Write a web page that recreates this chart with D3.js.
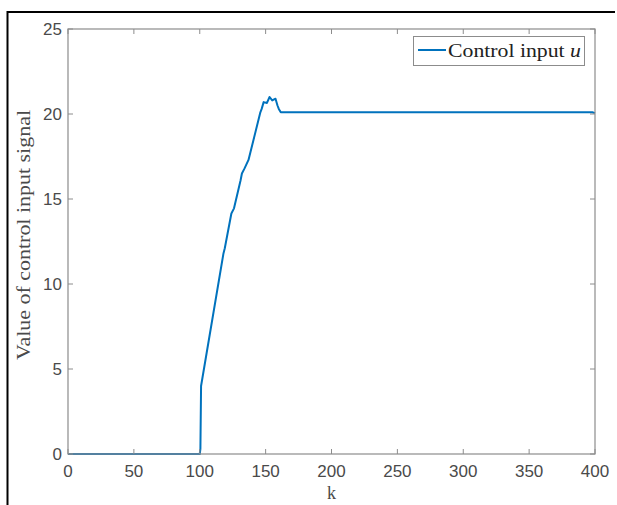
<!DOCTYPE html>
<html><head><meta charset="utf-8">
<script src="https://cdn.jsdelivr.net/npm/d3@7"></script>
<style>body{margin:0;background:#fff}</style>
</head><body>
<svg id="c" width="617" height="505"></svg>
<script>
const kValues = [0,100,100.5,101,118,119,124,126,131,132,134,137,146,147,148.5,151,153,155,157.5,159,160,161.5,398,400];
const uValues = [0,0,0.3,4.0,11.8,12.1,14.15,14.45,16.1,16.5,16.8,17.3,20.1,20.3,20.7,20.65,21.0,20.8,20.9,20.5,20.3,20.1,20.1,20.05];
const xTicks = [0,50,100,150,200,250,300,350,400];
const yTicks = [0,5,10,15,20,25];
const seriesName = "Control input ";
const xLabel = "k";
const yLabel = "Value of control input signal";

const svg = d3.select("#c");
const L=68,R=595,T=29,B=454;
const x = d3.scaleLinear().domain([0,400]).range([L,R]);
const y = d3.scaleLinear().domain([0,25]).range([B,T]);
const axisCol="#8c8c8c", txtCol="#4a4a4a";

svg.append("path").attr("d",`M7.5,505 L7.5,12 L615,12`).attr("fill","none").attr("stroke","#000").attr("stroke-width",2);

svg.append("rect").attr("x",L).attr("y",T).attr("width",R-L).attr("height",B-T).attr("fill","#fff");

const line = d3.line().x((d,i)=>x(kValues[i])).y(d=>y(d));
svg.append("path").datum(uValues).attr("d",line).attr("fill","none").attr("stroke","#0072BD").attr("stroke-width",2).attr("stroke-linejoin","round");

svg.append("rect").attr("x",L).attr("y",T).attr("width",R-L).attr("height",B-T).attr("fill","none").attr("stroke",axisCol).attr("stroke-width",1.2);

const tl=5;
const xa = svg.append("g");
xTicks.forEach(t=>{
  xa.append("line").attr("x1",x(t)).attr("x2",x(t)).attr("y1",B).attr("y2",B-tl).attr("stroke",axisCol);
  xa.append("line").attr("x1",x(t)).attr("x2",x(t)).attr("y1",T).attr("y2",T+tl).attr("stroke",axisCol);
  xa.append("text").attr("x",x(t)).attr("y",B+23).attr("text-anchor","middle").attr("fill",txtCol)
    .attr("font-family","Liberation Sans, Arial, sans-serif").attr("font-size",17).text(t);
});
yTicks.forEach(t=>{
  xa.append("line").attr("x1",L).attr("x2",L+tl).attr("y1",y(t)).attr("y2",y(t)).attr("stroke",axisCol);
  xa.append("line").attr("x1",R).attr("x2",R-tl).attr("y1",y(t)).attr("y2",y(t)).attr("stroke",axisCol);
  xa.append("text").attr("x",L-6).attr("y",y(t)+6).attr("text-anchor","end").attr("fill",txtCol)
    .attr("font-family","Liberation Sans, Arial, sans-serif").attr("font-size",17).text(t);
});

svg.append("text").attr("x",(L+R)/2).attr("y",499).attr("text-anchor","middle").attr("fill",txtCol)
  .attr("font-family","Liberation Serif, DejaVu Serif, serif").attr("font-size",18).text(xLabel);
svg.append("text").attr("transform",`translate(30,235) rotate(-90)`).attr("text-anchor","middle").attr("fill",txtCol)
  .attr("font-family","Liberation Serif, DejaVu Serif, serif").attr("font-size",18)
  .attr("textLength",250).attr("lengthAdjust","spacingAndGlyphs").text(yLabel);

const lg = svg.append("g");
lg.append("rect").attr("x",413.5).attr("y",36.5).attr("width",171).attr("height",29).attr("fill","#fff").attr("stroke",axisCol).attr("stroke-width",1);
lg.append("line").attr("x1",418).attr("x2",446).attr("y1",50).attr("y2",50).attr("stroke","#0072BD").attr("stroke-width",2);
const lt = lg.append("text").attr("x",448).attr("y",57).attr("fill","#222")
  .attr("font-family","Liberation Serif, DejaVu Serif, serif").attr("font-size",19)
  .attr("textLength",133).attr("lengthAdjust","spacingAndGlyphs");
lt.append("tspan").text(seriesName);
lt.append("tspan").attr("font-style","italic").text("u");
</script>
</body></html>
